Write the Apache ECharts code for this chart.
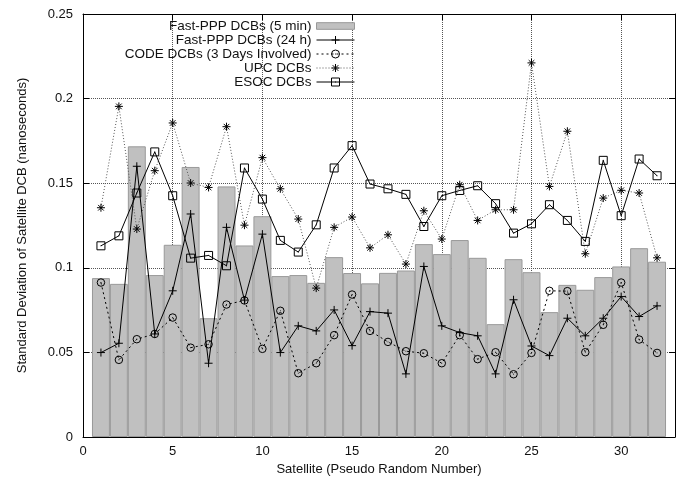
<!DOCTYPE html>
<html>
<head>
<meta charset="utf-8">
<script src="https://cdn.jsdelivr.net/npm/echarts@6/dist/echarts.min.js"></script>
<style>
  html, body { margin: 0; padding: 0; background: #fff; }
  #chart { width: 685px; height: 481px; }
</style>
</head>
<body>
<div id="chart"></div>
<script>
// Satellite PRN numbers
const satellites = [1,2,3,4,5,6,7,8,9,10,11,12,13,14,15,16,17,18,19,20,21,22,23,24,25,26,27,28,29,30,31,32];

// Standard deviation of satellite DCBs (ns)
const fastPpp5min = [0.0939,0.0905,0.1718,0.0957,0.1136,0.1596,0.0702,0.1481,0.1132,0.1305,0.0951,0.0957,0.0911,0.1063,0.0969,0.0908,
                     0.0970,0.0984,0.1140,0.1081,0.1164,0.1059,0.0667,0.1051,0.0974,0.0738,0.0899,0.0870,0.0945,0.1008,0.1116,0.1036];
const fastPpp24h  = [0.0499,0.0554,0.1600,0.0609,0.0864,0.1318,0.0436,0.1239,0.0809,0.1199,0.0499,0.0657,0.0627,0.0751,0.0540,0.0741,
                     0.0732,0.0373,0.1008,0.0657,0.0617,0.0598,0.0373,0.0811,0.0538,0.0481,0.0702,0.0598,0.0702,0.0830,0.0712,0.0775];
const codeDcb     = [0.0913,0.0456,0.0578,0.0609,0.0706,0.0528,0.0548,0.0783,0.0807,0.0521,0.0746,0.0377,0.0436,0.0602,0.0842,0.0627,
                     0.0562,0.0507,0.0495,0.0436,0.0602,0.0460,0.0501,0.0371,0.0497,0.0864,0.0862,0.0501,0.0663,0.0913,0.0576,0.0497];
const upcDcb      = [0.1355,0.1954,0.1229,0.1574,0.1856,0.1501,0.1475,0.1834,0.1252,0.1651,0.1467,0.1288,0.0880,0.1239,0.1300,0.1118,
                     0.1195,0.1022,0.1337,0.1170,0.1491,0.1280,0.1343,0.1343,0.2211,0.1481,0.1807,0.1083,0.1412,0.1458,0.1442,0.1059];
const esocDcb     = [0.1130,0.1189,0.1442,0.1685,0.1426,0.1057,0.1073,0.1012,0.1590,0.1406,0.1162,0.1093,0.1254,0.1590,0.1722,0.1495,
                     0.1467,0.1434,0.1244,0.1426,0.1457,0.1485,0.1379,0.1205,0.1260,0.1373,0.1280,0.1156,0.1635,0.1308,0.1643,0.1544];

const seriesNames = ['Fast-PPP DCBs (5 min)', 'Fast-PPP DCBs (24 h)', 'CODE DCBs (3 Days Involved)', 'UPC DCBs', 'ESOC DCBs'];

const pairs = vals => satellites.map((s, i) => [s, vals[i]]);

// point markers drawn as stroked paths
const plusMark = 'path://M0,5L10,5M5,0L5,10';
const circleMark = 'path://M9,5A4,4,0,1,1,1,5A4,4,0,1,1,9,5ZM4.6,5L5.4,5';
const starMark = 'path://M5,0L5,10M0,5L10,5M1.5,1.5L8.5,8.5M8.5,1.5L1.5,8.5';
const squareMark = 'path://M0,0L10,0L10,10L0,10ZM4.5,5L5.5,5';

const FONT = 'Liberation Sans, Arial, Helvetica, sans-serif';
const markStyle = { color: 'transparent', borderColor: '#000', borderWidth: 1 };

function lineSeries(name, vals, symbol, size, lineStyle) {
  return {
    name, type: 'line', data: pairs(vals),
    symbol, symbolSize: size,
    itemStyle: markStyle,
    lineStyle: Object.assign({ width: 1, color: '#000' }, lineStyle),
    z: 3
  };
}

const chart = echarts.init(document.getElementById('chart'), null, { renderer: 'canvas' });

// each axis gets its own style objects
const gridLine = () => ({ show: true, showMinLine: false, showMaxLine: false, lineStyle: { color: '#555', type: 'dotted', width: 1 } });
const tickIn = () => ({ show: true, inside: true, length: 6, lineStyle: { color: '#000' } });
const axisLine = () => ({ show: true, onZero: false, lineStyle: { color: '#000', width: 1 } });
const legendLine = { width: 1 };

chart.setOption({
  animation: false,
  backgroundColor: '#fff',
  textStyle: { fontFamily: FONT },
  grid: { left: 83, right: 10, top: 14, bottom: 44 },
  legend: {
    orient: 'vertical',
    align: 'right',
    right: 330,
    top: 19,
    padding: 0,
    itemGap: 0,
    itemWidth: 38,
    itemHeight: 10,
    textStyle: { fontFamily: FONT, fontSize: 13.5, color: '#111', lineHeight: 14 },
    data: [
      { name: seriesNames[0], icon: 'path://M0,0L40,0L40,7L0,7Z', itemStyle: { color: '#c0c0c0', borderColor: '#999', borderWidth: 1 } },
      { name: seriesNames[1], itemStyle: markStyle, lineStyle: legendLine },
      { name: seriesNames[2], itemStyle: markStyle, lineStyle: legendLine },
      { name: seriesNames[3], itemStyle: markStyle, lineStyle: legendLine },
      { name: seriesNames[4], itemStyle: markStyle, lineStyle: legendLine }
    ]
  },
  xAxis: [
    {
      type: 'value', min: 0, max: 33, interval: 5, position: 'bottom',
      name: 'Satellite (Pseudo Random Number)', nameLocation: 'middle', nameGap: 24,
      nameTextStyle: { fontFamily: FONT, fontSize: 13, color: '#111' },
      axisLine: axisLine(), axisTick: tickIn(),
      axisLabel: { fontFamily: FONT, fontSize: 13, color: '#111', margin: 8, showMaxLabel: false },
      splitLine: gridLine()
    },
    {
      type: 'value', min: 0, max: 33, interval: 5, position: 'top',
      axisLine: axisLine(), axisTick: tickIn(), axisLabel: { show: false }, splitLine: { show: false }
    }
  ],
  yAxis: [
    {
      type: 'value', min: 0, max: 0.25, interval: 0.05, position: 'left',
      name: 'Standard Deviation of Satellite DCB (nanoseconds)', nameLocation: 'middle', nameGap: 54,
      nameTextStyle: { fontFamily: FONT, fontSize: 13, color: '#111' },
      axisLine: axisLine(), axisTick: tickIn(),
      axisLabel: { fontFamily: FONT, fontSize: 13, color: '#111', margin: 10 },
      splitLine: gridLine()
    },
    {
      type: 'value', min: 0, max: 0.25, interval: 0.05, position: 'right',
      axisLine: axisLine(), axisTick: tickIn(), axisLabel: { show: false }, splitLine: { show: false }
    }
  ],
  series: [
    {
      name: seriesNames[0], type: 'bar', data: pairs(fastPpp5min),
      barWidth: '100%',
      itemStyle: { color: '#c0c0c0', borderColor: '#999', borderWidth: 1 },
      z: 2
    },
    lineSeries(seriesNames[1], fastPpp24h, plusMark, 8, { type: 'solid' }),
    lineSeries(seriesNames[2], codeDcb, circleMark, 7.5, { type: [2, 3] }),
    lineSeries(seriesNames[3], upcDcb, starMark, 8, { type: [1, 2], color: '#555' }),
    lineSeries(seriesNames[4], esocDcb, squareMark, 8, { type: 'solid' })
  ]
});
</script>
</body>
</html>
